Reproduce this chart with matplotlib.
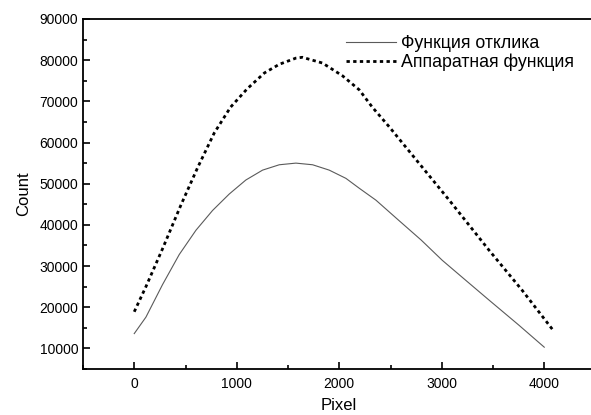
import matplotlib
matplotlib.use("Agg")
import matplotlib.pyplot as plt
from matplotlib.ticker import MultipleLocator

plt.rcParams["font.family"] = ["Liberation Sans", "DejaVu Sans"]

# Функция отклика (сплошная)
resp_x = [0, 114, 276, 439, 602, 764, 927, 1089, 1252, 1415, 1577, 1740, 1902, 2065,
          2195, 2358, 2585, 2800, 3005, 3236, 3463, 3750, 4000]
resp_y = [13600, 17600, 25500, 32800, 38700, 43500, 47500, 50900, 53300, 54600, 55000,
          54600, 53300, 51300, 48900, 46000, 41000, 36300, 31400, 26500, 21700, 15700, 10300]

# Аппаратная функция (пунктир)
app_x = [0, 114, 276, 455, 620, 780, 940, 1100, 1270, 1415, 1577, 1640, 1837, 2032,
         2195, 2322, 2488, 2810, 3073, 3463, 3785, 4090]
app_y = [18900, 25000, 34200, 44800, 54000, 62300, 68600, 73000, 76900, 79000, 80500,
         80700, 79300, 76200, 72800, 68600, 63800, 54000, 46000, 33800, 24100, 14300]

fig = plt.figure(figsize=(5.91, 4.15), dpi=100)
ax = fig.add_axes([83 / 591, 46 / 415, 512.5 / 591, 350 / 415])

ax.plot(resp_x, resp_y, color="#5a5a5a", lw=0.8, label="Функция отклика")
ax.plot(app_x, app_y, color="black", lw=2.0, ls=(0, (1.2, 1.2)), label="Аппаратная функция")

ax.set_xlim(-500, 4500)
ax.set_ylim(5000, 90000)
ax.set_xticks([0, 1000, 2000, 3000, 4000])
ax.xaxis.set_minor_locator(MultipleLocator(500))
ax.yaxis.set_major_locator(MultipleLocator(10000))
ax.yaxis.set_minor_locator(MultipleLocator(5000))
ax.tick_params(which="both", direction="in", labelsize=10, width=1.2)
ax.tick_params(which="major", length=5)
ax.tick_params(which="minor", length=3)
ax.tick_params(axis="x", pad=6)
for s in ax.spines.values():
    s.set_linewidth(1.3)

ax.set_xlabel("Pixel", fontsize=12, labelpad=5)
ax.set_ylabel("Count", fontsize=12, labelpad=6)

ax.legend(loc="upper left", bbox_to_anchor=(0.5, 0.975), frameon=False, fontsize=12.8,
          handlelength=2.8, handletextpad=0.3, labelspacing=0.1, borderaxespad=0)

fig.savefig("out.png", dpi=100)
